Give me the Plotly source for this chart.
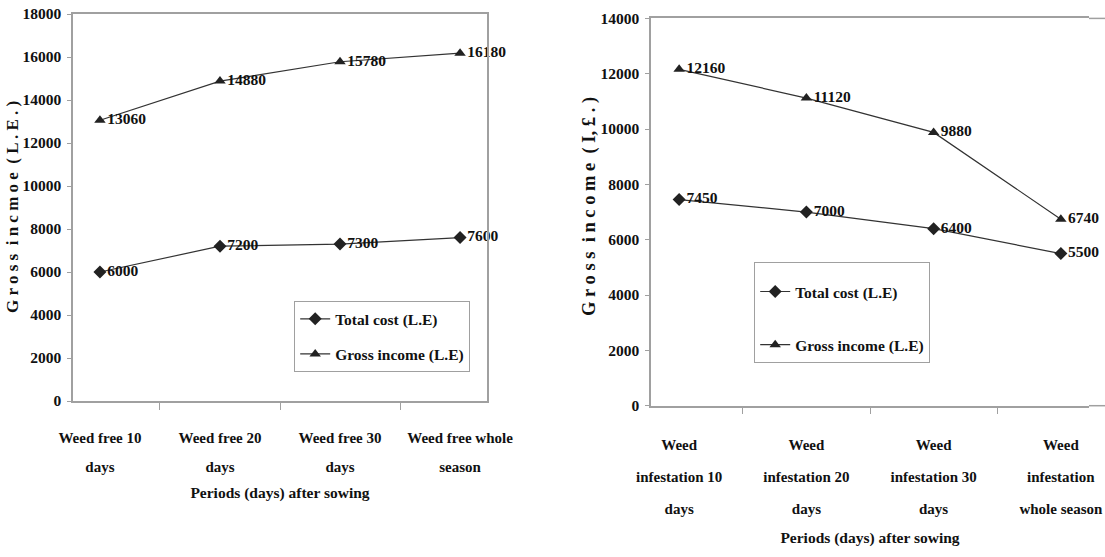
import plotly.graph_objects as go

# ---------------- data ----------------
left_categories = ["Weed free 10|days", "Weed free 20|days", "Weed free 30|days", "Weed free whole|season"]
left_total_cost = [6000, 7200, 7300, 7600]
left_gross_income = [13060, 14880, 15780, 16180]

right_categories = ["Weed|infestation 10|days", "Weed|infestation 20|days",
                    "Weed|infestation 30|days", "Weed|infestation|whole season"]
right_total_cost = [7450, 7000, 6400, 5500]
right_gross_income = [12160, 11120, 9880, 6740]

left_yticks = list(range(0, 18001, 2000))
right_yticks = list(range(0, 14001, 2000))

series_names = ["Total cost (L.E)", "Gross income (L.E)"]

# ---------------- style ----------------
FONT = "Liberation Serif"
TXT = "#111111"
AX = "#a0a0a0"
LINE = "#333333"
MARK = "#222222"


def fmt_cat(c, size=15):
    return "<br>".join(f'<span style="font-size:{size}px">{p}</span>' for p in c.split("|"))


fig = go.Figure()


def add_series(xcats, ycost, yinc, xa, ya, legend):
    xs = [fmt_cat(c) for c in xcats]
    for name, vals, sym, grp in [(series_names[0], ycost, "diamond", "a"),
                                 (series_names[1], yinc, "triangle-up", "b")]:
        fig.add_trace(go.Scatter(
            x=xs, y=vals, mode="lines+markers+text", name=name,
            text=[str(v) for v in vals], textposition="middle right",
            textfont=dict(family=FONT, size=15.5, color=TXT, weight="bold"),
            line=dict(color=LINE, width=1.2),
            marker=dict(symbol=sym, size=10, color=MARK),
            xaxis=xa, yaxis=ya, legend=legend, legendgroup=grp + legend,
            cliponaxis=False, hoverinfo="skip",
        ))


add_series(left_categories, left_total_cost, left_gross_income, "x", "y", "legend")
add_series(right_categories, right_total_cost, right_gross_income, "x2", "y2", "legend2")

W, H = 1105, 557
px = lambda v: v / W
py = lambda v: 1 - v / H

xcommon = dict(type="category", tickson="boundaries", ticks="outside", ticklen=7,
               tickcolor=AX, showline=True, linecolor=AX, linewidth=1.5,
               showgrid=False, zeroline=False, automargin=False,
               title_font=dict(family=FONT, size=15.5, color=TXT, weight="bold"))
ycommon = dict(ticks="outside", ticklen=4, tickcolor=AX, showline=True, linecolor=AX,
               linewidth=1.5, showgrid=False, zeroline=False, dtick=2000,
               tickformat="d", automargin=False, ticklabelstandoff=3,
               tickfont=dict(family=FONT, size=15.5, color=TXT, weight="bold"))

sp = "\u00a0"
left_ytitle = f"G r o s s{sp}{sp}i n c m o e{sp}{sp}( L . E . )"
right_ytitle = f"G r o s s{sp}{sp}i n c o m e{sp}{sp}( I, £ . )"

fig.update_layout(
    width=W, height=H, margin=dict(l=0, r=0, t=0, b=0, autoexpand=False),
    paper_bgcolor="white", plot_bgcolor="white",
    xaxis=dict(domain=[px(73), px(487)], anchor="y", mirror=True, ticklabelstandoff=14,
               tickfont=dict(family=FONT, size=22, color=TXT, weight="bold"),
               title=dict(text="Periods (days) after sowing", standoff=13), **xcommon),
    yaxis=dict(domain=[py(401), py(14)], anchor="x", range=[0, 18000], mirror=True,
               tickvals=left_yticks, **ycommon),
    xaxis2=dict(domain=[px(651), px(1089)], anchor="y2", mirror=True, ticklabelstandoff=13,
                tickfont=dict(family=FONT, size=24.5, color=TXT, weight="bold"),
                title=dict(text="Periods (days) after sowing", standoff=17), **xcommon),
    yaxis2=dict(domain=[py(405.7), py(18.4)], anchor="x2", range=[0, 14000], mirror=False,
                tickvals=right_yticks, **ycommon),
    legend=dict(x=px(294), y=py(301), xanchor="left", yanchor="top",
                bordercolor=AX, borderwidth=1.2, bgcolor="white",
                traceorder="grouped", tracegroupgap=12,
                font=dict(family=FONT, size=15.5, color=TXT, weight="bold")),
    legend2=dict(x=px(754), y=py(262), xanchor="left", yanchor="top",
                 bordercolor=AX, borderwidth=1.2, bgcolor="white",
                 traceorder="grouped", tracegroupgap=30,
                 title=dict(text=" ", font=dict(family=FONT, size=9)),
                 font=dict(family=FONT, size=15.5, color=TXT, weight="bold")),
    showlegend=True,
)

# y-axis titles (letter-spaced, rotated)
fig.add_annotation(text=left_ytitle, textangle=-90, xref="paper", yref="paper",
                   x=px(12), y=py(207), xanchor="center", yanchor="middle", showarrow=False,
                   font=dict(family=FONT, size=17, color=TXT, weight="bold"))
fig.add_annotation(text=right_ytitle, textangle=-90, xref="paper", yref="paper",
                   x=px(589), y=py(207), xanchor="center", yanchor="middle", showarrow=False,
                   font=dict(family=FONT, size=18.5, color=TXT, weight="bold"))

# extend the right chart's top border and axis line to the page edge
for yy in (18.4, 405.7):
    fig.add_shape(type="line", xref="paper", yref="paper",
                  x0=px(1089), x1=1.0, y0=py(yy), y1=py(yy),
                  line=dict(color=AX, width=1.5))

fig.write_html("out.html")
